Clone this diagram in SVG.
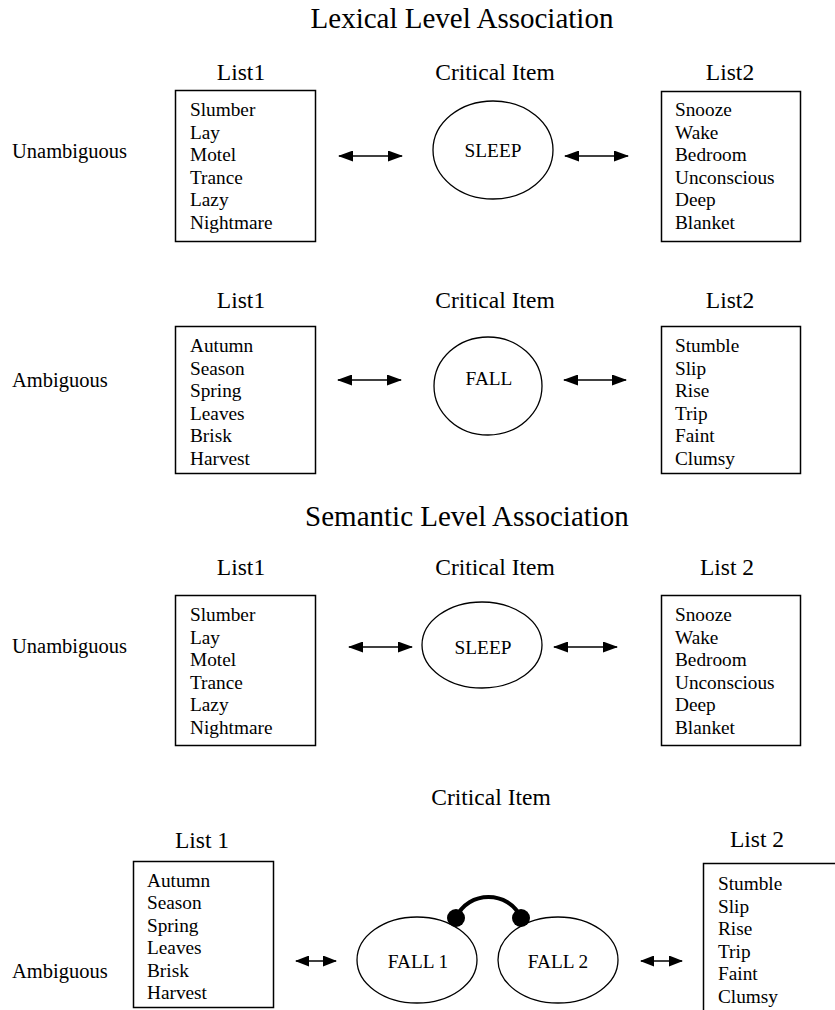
<svg xmlns="http://www.w3.org/2000/svg" width="835" height="1010" viewBox="0 0 835 1010">
<style>
text{font-family:"Liberation Serif","Times New Roman",serif;fill:#000}
.title{font-size:29px;text-anchor:middle}
.hdr{font-size:23.5px;text-anchor:middle}
.lbl{font-size:20.5px}
.item{font-size:19.3px}
.crit{font-size:19.3px;text-anchor:middle}
.box{fill:#fff;stroke:#000;stroke-width:1.5}
.ell{fill:#fff;stroke:#000;stroke-width:1.3}
.arr{stroke:#000;stroke-width:1.6;fill:none;marker-start:url(#ah);marker-end:url(#ah)}
.arrs{stroke:#000;stroke-width:1.6;fill:none;marker-start:url(#ahs);marker-end:url(#ahs)}
</style>
<defs>
<marker id="ah" viewBox="0 0 15 11" refX="14" refY="5.5" markerWidth="15" markerHeight="11" markerUnits="userSpaceOnUse" orient="auto-start-reverse"><path d="M0,0 L15,5.5 L0,11 z" fill="#000"/></marker>
<marker id="ahs" viewBox="0 0 14 11" refX="13" refY="5.5" markerWidth="14" markerHeight="11" markerUnits="userSpaceOnUse" orient="auto-start-reverse"><path d="M0,0 L14,5.5 L0,11 z" fill="#000"/></marker>
</defs>
<rect width="835" height="1010" fill="#fff"/>

<text class="title" x="462" y="28">Lexical Level Association</text>
<text class="title" x="467" y="526">Semantic Level Association</text>

<!-- Row 1 -->
<g id="r1-label"><text class="lbl" x="12" y="158">Unambiguous</text></g>
<g id="r1-list1">
<text class="hdr" x="241" y="80">List1</text>
<rect class="box" x="175.5" y="90.5" width="140" height="151"/>
<text class="item" x="190" y="116">Slumber</text>
<text class="item" x="190" y="138.6">Lay</text>
<text class="item" x="190" y="161.2">Motel</text>
<text class="item" x="190" y="183.8">Trance</text>
<text class="item" x="190" y="206.4">Lazy</text>
<text class="item" x="190" y="229">Nightmare</text>
</g>
<g id="r1-crit">
<text class="hdr" x="495" y="80">Critical Item</text>
<ellipse class="ell" cx="493" cy="150" rx="60" ry="49"/>
<text class="crit" x="493" y="157">SLEEP</text>
</g>
<g id="r1-list2">
<text class="hdr" x="730" y="80">List2</text>
<rect class="box" x="661.5" y="91.5" width="139" height="150"/>
<text class="item" x="675" y="116">Snooze</text>
<text class="item" x="675" y="138.6">Wake</text>
<text class="item" x="675" y="161.2">Bedroom</text>
<text class="item" x="675" y="183.8">Unconscious</text>
<text class="item" x="675" y="206.4">Deep</text>
<text class="item" x="675" y="229">Blanket</text>
</g>

<!-- Row 2 -->
<g id="r2-label"><text class="lbl" x="12" y="387">Ambiguous</text></g>
<g id="r2-list1">
<text class="hdr" x="241" y="308">List1</text>
<rect class="box" x="175.5" y="326.5" width="140" height="147"/>
<text class="item" x="190" y="352">Autumn</text>
<text class="item" x="190" y="374.6">Season</text>
<text class="item" x="190" y="397.2">Spring</text>
<text class="item" x="190" y="419.8">Leaves</text>
<text class="item" x="190" y="442.4">Brisk</text>
<text class="item" x="190" y="465">Harvest</text>
</g>
<g id="r2-crit">
<text class="hdr" x="495" y="308">Critical Item</text>
<ellipse class="ell" cx="488" cy="386" rx="54" ry="49"/>
<text class="crit" x="489" y="385">FALL</text>
</g>
<g id="r2-list2">
<text class="hdr" x="730" y="308">List2</text>
<rect class="box" x="661.5" y="326.5" width="139" height="147"/>
<text class="item" x="675" y="352">Stumble</text>
<text class="item" x="675" y="374.6">Slip</text>
<text class="item" x="675" y="397.2">Rise</text>
<text class="item" x="675" y="419.8">Trip</text>
<text class="item" x="675" y="442.4">Faint</text>
<text class="item" x="675" y="465">Clumsy</text>
</g>

<!-- Row 3 -->
<g id="r3-label"><text class="lbl" x="12" y="653">Unambiguous</text></g>
<g id="r3-list1">
<text class="hdr" x="241" y="575">List1</text>
<rect class="box" x="175.5" y="595.5" width="140" height="150"/>
<text class="item" x="190" y="621">Slumber</text>
<text class="item" x="190" y="643.6">Lay</text>
<text class="item" x="190" y="666.2">Motel</text>
<text class="item" x="190" y="688.8">Trance</text>
<text class="item" x="190" y="711.4">Lazy</text>
<text class="item" x="190" y="734">Nightmare</text>
</g>
<g id="r3-crit">
<text class="hdr" x="495" y="575">Critical Item</text>
<ellipse class="ell" cx="482" cy="645" rx="60" ry="43"/>
<text class="crit" x="483" y="654">SLEEP</text>
</g>
<g id="r3-list2">
<text class="hdr" x="727" y="575">List 2</text>
<rect class="box" x="661.5" y="595.5" width="139" height="150"/>
<text class="item" x="675" y="621">Snooze</text>
<text class="item" x="675" y="643.6">Wake</text>
<text class="item" x="675" y="666.2">Bedroom</text>
<text class="item" x="675" y="688.8">Unconscious</text>
<text class="item" x="675" y="711.4">Deep</text>
<text class="item" x="675" y="734">Blanket</text>
</g>

<!-- Row 4 -->
<g id="r4-label"><text class="lbl" x="12" y="978">Ambiguous</text></g>
<g id="r4-list1">
<text class="hdr" x="202" y="848">List 1</text>
<rect class="box" x="133.5" y="861.5" width="140" height="146"/>
<text class="item" x="147" y="887">Autumn</text>
<text class="item" x="147" y="909.4">Season</text>
<text class="item" x="147" y="931.8">Spring</text>
<text class="item" x="147" y="954.2">Leaves</text>
<text class="item" x="147" y="976.6">Brisk</text>
<text class="item" x="147" y="999">Harvest</text>
</g>
<g id="r4-crit">
<text class="hdr" x="491" y="805">Critical Item</text>
</g>
<g id="r4-fall1">
<ellipse class="ell" cx="417" cy="960" rx="60" ry="43"/>
<text class="crit" x="418" y="968">FALL 1</text>
</g>
<g id="r4-fall2">
<ellipse class="ell" cx="558" cy="960" rx="60" ry="43"/>
<text class="crit" x="558" y="968">FALL 2</text>
</g>
<g id="r4-list2">
<text class="hdr" x="757" y="847">List 2</text>
<path d="M703.5,1012 L703.5,863.5 L840,863.5" fill="none" stroke="#000" stroke-width="1.5"/>
<text class="item" x="718" y="890">Stumble</text>
<text class="item" x="718" y="912.6">Slip</text>
<text class="item" x="718" y="935.2">Rise</text>
<text class="item" x="718" y="957.8">Trip</text>
<text class="item" x="718" y="980.4">Faint</text>
<text class="item" x="718" y="1003">Clumsy</text>
</g>

<g id="connectors">
<line class="arr" x1="339" y1="156" x2="402" y2="156"/>
<line class="arr" x1="565" y1="156" x2="628" y2="156"/>
<line class="arr" x1="338" y1="380" x2="401" y2="380"/>
<line class="arr" x1="564" y1="380" x2="626" y2="380"/>
<line class="arr" x1="349" y1="647" x2="412" y2="647"/>
<line class="arr" x1="554" y1="647" x2="617" y2="647"/>
<line class="arrs" x1="296" y1="961" x2="336" y2="961"/>
<line class="arrs" x1="641" y1="961" x2="682" y2="961"/>
<path d="M456,918 C468,890 509,890 521,918" fill="none" stroke="#000" stroke-width="4"/>
<circle cx="456" cy="918" r="9" fill="#000"/>
<circle cx="521" cy="918" r="9" fill="#000"/>
</g>
</svg>
